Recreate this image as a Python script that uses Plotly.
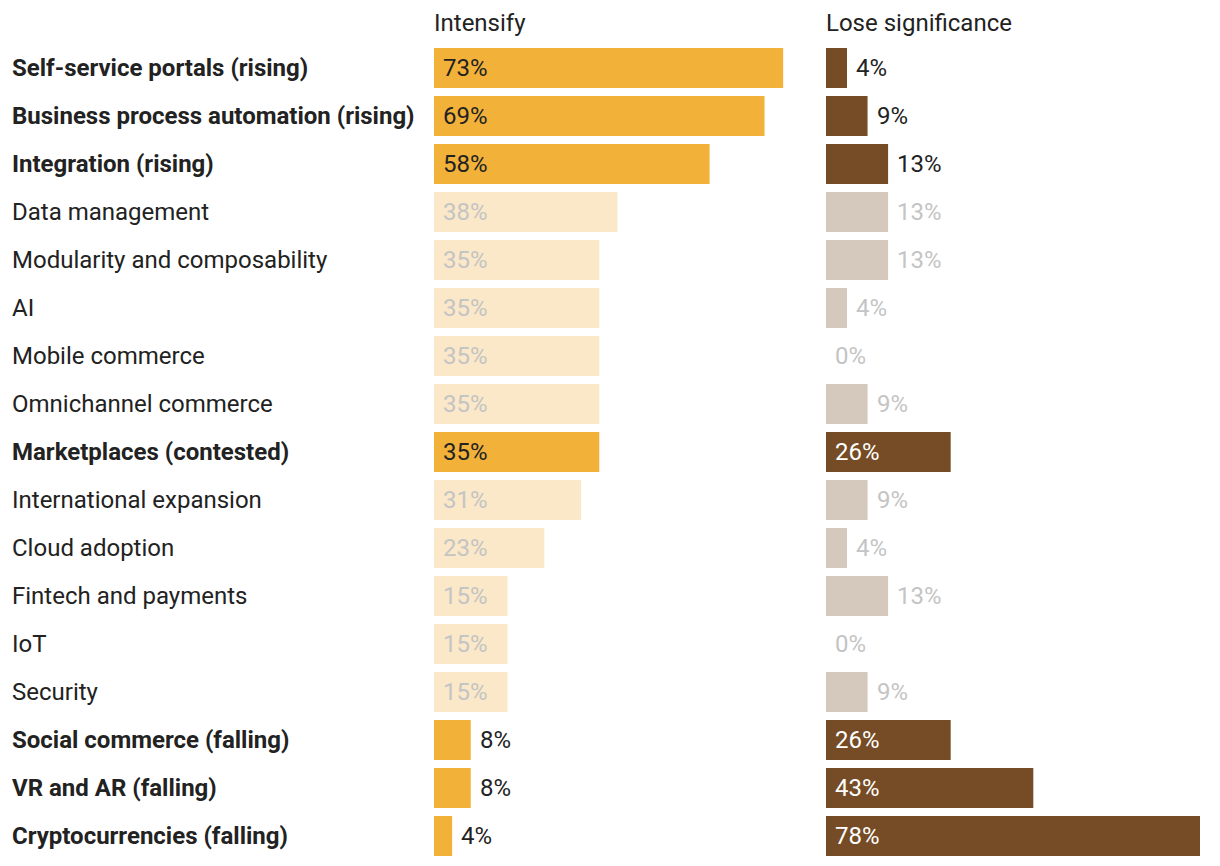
import plotly.graph_objects as go

categories = [
    "Self-service portals (rising)",
    "Business process automation (rising)",
    "Integration (rising)",
    "Data management",
    "Modularity and composability",
    "AI",
    "Mobile commerce",
    "Omnichannel commerce",
    "Marketplaces (contested)",
    "International expansion",
    "Cloud adoption",
    "Fintech and payments",
    "IoT",
    "Security",
    "Social commerce (falling)",
    "VR and AR (falling)",
    "Cryptocurrencies (falling)",
]
highlight = [1, 1, 1, 0, 0, 0, 0, 0, 1, 0, 0, 0, 0, 0, 1, 1, 1]
intensify = [73.1, 69.2, 57.7, 38.4, 34.6, 34.6, 34.6, 34.6, 34.6, 30.8, 23.1, 15.4, 15.4, 15.4, 7.7, 7.7, 3.8]
lose = [4.4, 8.7, 13.0, 13.0, 13.0, 4.4, 0.0, 8.7, 26.1, 8.7, 4.4, 13.0, 0.0, 8.7, 26.1, 43.4, 78.3]
panel_titles = ["Intensify", "Lose significance"]

FONT = "Roboto, 'Open Sans', sans-serif"
FS = 24
W, H = 1220, 866
OFF = 8  # page body margin
ML, MT = 434 - OFF, 44 - OFF
MR = W - (1200 - OFF)
MB = H - (860 - OFF)
PW = W - ML - MR
PH = H - MT - MB
XMAX = 78.3

ORANGE, ORANGE_FADED = "#F2B23A", "#FBE8C8"
BROWN, BROWN_FADED = "#754C25", "#D5C8BC"
DARK, GREY = "#222222", "#C4C4C4"

fig = go.Figure()
fig.add_trace(go.Bar(
    y=categories, x=intensify, orientation="h", xaxis="x", yaxis="y",
    marker=dict(color=[ORANGE if h else ORANGE_FADED for h in highlight], line=dict(width=0)),
    hoverinfo="skip", showlegend=False,
))
fig.add_trace(go.Bar(
    y=categories, x=lose, orientation="h", xaxis="x2", yaxis="y",
    marker=dict(color=[BROWN if h else BROWN_FADED for h in highlight], line=dict(width=0)),
    hoverinfo="skip", showlegend=False,
))

annotations = []
for c, h in zip(categories, highlight):
    annotations.append(dict(
        x=(12 - OFF - ML) / PW, xref="paper", y=c, yref="y", xanchor="left", yanchor="middle",
        xshift=-2, text=f"<b>{c}</b>" if h else c, showarrow=False,
        font=dict(family=FONT, size=FS, color=DARK),
    ))
for axis, vals, inside_col in (("x", intensify, DARK), ("x2", lose, "#FFFFFF")):
    for c, v, h in zip(categories, vals, highlight):
        inside = v >= 14
        col = (inside_col if inside else DARK) if h else GREY
        annotations.append(dict(
            x=0 if inside else v, xref=axis, y=c, yref="y", xanchor="left", yanchor="middle",
            xshift=7, text=f"{v:.0f}%", showarrow=False,
            font=dict(family=FONT, size=FS, color=col),
        ))
for i, t in enumerate(panel_titles):
    annotations.append(dict(
        x=0 if i == 0 else (826 - 434) / PW, xref="paper", y=1 + 21 / PH, yref="paper",
        xanchor="left", yanchor="middle", xshift=-2, text=t, showarrow=False,
        font=dict(family=FONT, size=FS, color=DARK),
    ))

fig.update_layout(
    width=W, height=H,
    margin=dict(l=ML, r=MR, t=MT, b=MB),
    paper_bgcolor="white", plot_bgcolor="white",
    bargap=1 / 6,
    font=dict(family=FONT, size=FS, color=DARK),
    xaxis=dict(domain=[0, 374 / PW], range=[0, XMAX], visible=False, fixedrange=True),
    xaxis2=dict(domain=[(826 - 434) / PW, 1], range=[0, XMAX], visible=False, fixedrange=True),
    yaxis=dict(categoryorder="array", categoryarray=categories, autorange="reversed",
               showticklabels=False, showgrid=False, zeroline=False, fixedrange=True),
    annotations=annotations,
)

fig.write_html("out.html")
